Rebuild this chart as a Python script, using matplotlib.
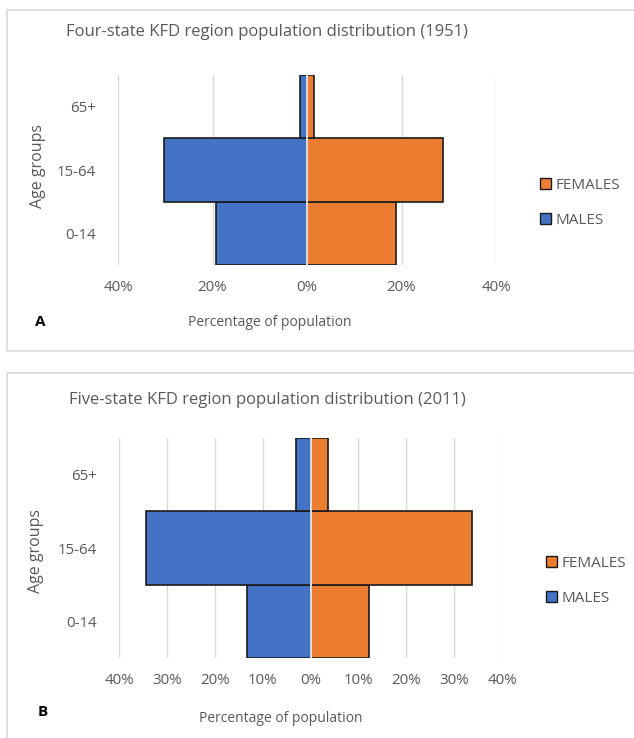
import matplotlib
matplotlib.use("Agg")
import matplotlib.pyplot as plt
from matplotlib.patches import Rectangle, Patch
from matplotlib.ticker import FuncFormatter, MultipleLocator

plt.rcParams['font.family'] = ['Open Sans', 'DejaVu Sans']

age_groups = ["0-14", "15-64", "65+"]

males_1951 = [19.2, 30.2, 1.4]
females_1951 = [18.9, 28.7, 1.5]

males_2011 = [13.2, 34.4, 3.1]
females_2011 = [12.3, 33.7, 3.6]

BLUE = "#4472C4"
ORANGE = "#ED7D31"
TEXT = "#595959"
GRID = "#D9D9D9"

W, H = 634, 738
fig = plt.figure(figsize=(W / 100, H / 100), dpi=100)


def fx(px):
    return px / W


def fy(py):
    return 1 - py / H


def panel_box(top, bottom):
    fig.patches.append(Rectangle((fx(7), fy(bottom)), fx(660) - fx(7), fy(top) - fy(bottom),
                                 transform=fig.transFigure, facecolor="none",
                                 edgecolor=GRID, lw=1.2, zorder=-5))


def pyramid(rect, males, females, step, title, title_y, letter, letter_xy,
            xlabel_xy, ylabel_xy, legend_xy):
    ax = fig.add_axes(rect)
    ax.patch.set_alpha(0)
    y = range(len(age_groups))
    ax.barh(y, [-m for m in males], height=1.0, color=BLUE, edgecolor="#1a1a1a",
            lw=1.2, zorder=3, label="MALES")
    ax.barh(y, females, height=1.0, color=ORANGE, edgecolor="#1a1a1a",
            lw=1.2, zorder=3, label="FEMALES")
    ax.axvline(0, color="white", lw=1.2, zorder=4)
    ax.set_xlim(-40, 40)
    ax.set_ylim(-0.5, len(age_groups) - 0.5)
    ax.xaxis.set_major_locator(MultipleLocator(step))
    ax.xaxis.set_major_formatter(FuncFormatter(lambda v, p: f"{abs(v):.0f}%"))
    ax.set_yticks(list(y))
    ax.set_yticklabels(age_groups)
    ax.grid(axis="x", color=GRID, lw=1.0, zorder=0)
    ax.set_axisbelow(True)
    for s in ax.spines.values():
        s.set_visible(False)
    ax.tick_params(length=0, colors=TEXT, labelsize=10.8)
    ax.tick_params(axis="x", pad=11)
    ax.tick_params(axis="y", pad=16)
    fig.text(fx(267), fy(title_y), title, ha="center", va="center",
             fontsize=12, color=TEXT)
    fig.text(fx(xlabel_xy[0]), fy(xlabel_xy[1]), "Percentage of population",
             ha="center", va="center", fontsize=10, color=TEXT)
    fig.text(fx(ylabel_xy[0]), fy(ylabel_xy[1]), "Age groups", ha="center",
             va="center", rotation=90, fontsize=11.5, color=TEXT)
    fig.text(fx(letter_xy[0]), fy(letter_xy[1]), letter, ha="center",
             va="center", fontsize=11, fontweight="bold", color="black")
    handles = [Patch(facecolor=ORANGE, edgecolor="#1a1a1a", lw=1.0, label="FEMALES"),
               Patch(facecolor=BLUE, edgecolor="#1a1a1a", lw=1.0, label="MALES")]
    fig.legend(handles=handles, loc="center left",
               bbox_to_anchor=(fx(legend_xy[0]), fy(legend_xy[1])), frameon=False,
               handlelength=0.7, handleheight=0.7, handletextpad=0.3,
               labelspacing=1.3, fontsize=11, labelcolor=TEXT, borderpad=0,
               borderaxespad=0)
    return ax


panel_box(10, 351)
panel_box(373, 760)

pyramid([fx(118), fy(265), fx(496) - fx(118), fy(75) - fy(265)],
        males_1951, females_1951, 20,
        "Four-state KFD region population distribution (1951)", 32,
        "A", (40, 322), (270, 322), (38, 166), (540, 203))

pyramid([fx(119), fy(658), fx(502) - fx(119), fy(438) - fy(658)],
        males_2011, females_2011, 10,
        "Five-state KFD region population distribution (2011)", 400,
        "B", (43, 712), (281, 718), (36, 551), (546, 581))

fig.savefig("out.png", dpi=100, facecolor="white")
